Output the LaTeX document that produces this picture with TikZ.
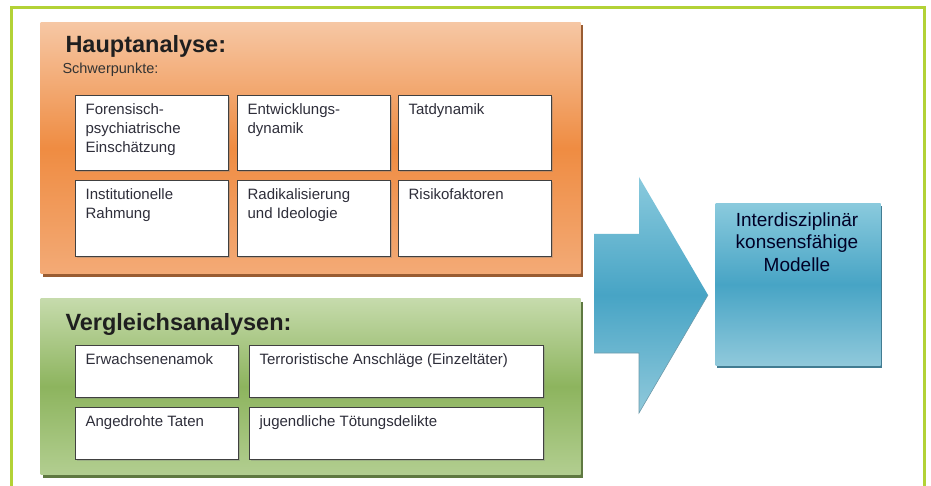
\documentclass[tikz,border=0pt]{standalone}
\usepackage{fontspec}
\setmainfont{Liberation Sans}
\usepackage{xcolor}
\usetikzlibrary{shadows}

\definecolor{rahmen}{HTML}{B3D236}
\definecolor{orangeHell}{HTML}{F6C7A4}
\definecolor{orangeMitte}{HTML}{EF8C42}
\definecolor{orangeUnten}{HTML}{F3AA76}
\definecolor{orangeSchatten}{HTML}{8E4A1C}
\definecolor{gruenHell}{HTML}{C6DBAC}
\definecolor{gruenMitte}{HTML}{8DB45E}
\definecolor{gruenUnten}{HTML}{B2CE90}
\definecolor{gruenSchatten}{HTML}{4E6A2C}
\definecolor{blauHell}{HTML}{8ACADD}
\definecolor{blauMitte}{HTML}{47A4C5}
\definecolor{blauUnten}{HTML}{90C9DB}
\definecolor{blauSchatten}{HTML}{2E6E86}
\definecolor{zellrand}{HTML}{404040}
\definecolor{schrift}{HTML}{2E2E3A}

% fixed-size cell with text at the top left
\newcommand{\zelle}[3]{\parbox[c][#2][t]{#1}{#3}}

\begin{document}
\begin{tikzpicture}[x=1pt,y=-1pt,line width=1.00pt,
    panel/.style={anchor=north west,inner sep=0pt,minimum width=540pt},
    zelle/.style={draw=zellrand,fill=white,line width=1.2pt,anchor=north west,
      inner xsep=10pt,inner ysep=8pt,text=schrift,font=\fontsize{15}{19}\selectfont,
      drop shadow={shadow xshift=1.5pt,shadow yshift=-1.5pt,opacity=.35}},
    titel/.style={anchor=base west,inner sep=0pt,text=black!88,font=\fontsize{23.5}{28}\selectfont\bfseries}]
  \useasboundingbox (0,0) rectangle (931,486);

  % frame
  \draw [rahmen,line width=3pt] (11,487) |- (924,8) -- (924,487);

  % Hauptanalyse
  \node [panel,minimum height=251pt,top color=orangeHell,bottom color=orangeUnten,middle color=orangeMitte,
    drop shadow={shadow xshift=2pt,shadow yshift=-3pt,fill=orangeSchatten,opacity=.9}] (haupt) at (40,22) {};
  \node [titel] (hauptTitel) at (65,53) {Hauptanalyse:};
  \node [anchor=base west,inner sep=0pt,text=black!80,font=\fontsize{14.5}{17}\selectfont] (hauptSchwer) at (62,74) {Schwerpunkte:};

  \node [zelle] (h1) at (75,95)  {\zelle{133pt}{59pt}{Forensisch-\\psychiatrische\\Einschätzung}};
  \node [zelle] (h2) at (237,95) {\zelle{133pt}{59pt}{Entwicklungs-\\dynamik}};
  \node [zelle] (h3) at (398,95) {\zelle{133pt}{59pt}{Tatdynamik}};
  \node [zelle] (h4) at (75,180)  {\zelle{133pt}{60pt}{Institutionelle\\Rahmung}};
  \node [zelle] (h5) at (237,180) {\zelle{133pt}{60pt}{Radikalisierung\\und Ideologie}};
  \node [zelle] (h6) at (398,180) {\zelle{133pt}{60pt}{Risikofaktoren}};

  % Vergleichsanalysen
  \node [panel,minimum height=176pt,top color=gruenHell,bottom color=gruenUnten,middle color=gruenMitte,
    drop shadow={shadow xshift=2pt,shadow yshift=-3pt,fill=gruenSchatten,opacity=.9}] (vergleich) at (40,298) {};
  \node [titel] (vergleichTitel) at (65,330) {Vergleichsanalysen:};

  \node [zelle] (v1) at (75,345)  {\zelle{143pt}{36pt}{Erwachsenenamok}};
  \node [zelle] (v2) at (249,345) {\zelle{274pt}{36pt}{Terroristische Anschläge (Einzeltäter)}};
  \node [zelle] (v3) at (75,407)  {\zelle{143pt}{36pt}{Angedrohte Taten}};
  \node [zelle] (v4) at (249,407) {\zelle{274pt}{36pt}{jugendliche Tötungsdelikte}};

  % block arrow
  \path [top color=blauHell,bottom color=blauUnten,middle color=blauMitte]
    (594,234) -- (639,234) -- (639,177) -- (708,295) -- (639,413) -- (639,353) -- (594,353) -- cycle;
  \draw [blauSchatten!70,line width=0.6pt] (594,353) -- (639,353) -- (639,413) -- (708,295);

  % result
  \node [anchor=north west,inner sep=0pt,minimum width=165pt,minimum height=162pt,
    top color=blauHell,bottom color=blauUnten,middle color=blauMitte,
    drop shadow={shadow xshift=1.5pt,shadow yshift=-2.5pt,fill=blauSchatten,opacity=.9}] (modell) at (715,203) {};
  \node [anchor=north,align=center,inner sep=0pt,text=black!85!blue,font=\fontsize{19}{22.5}\selectfont]
    (modellText) at (797,212) {Interdisziplinär\\konsensfähige\\Modelle};
\end{tikzpicture}
\end{document}
